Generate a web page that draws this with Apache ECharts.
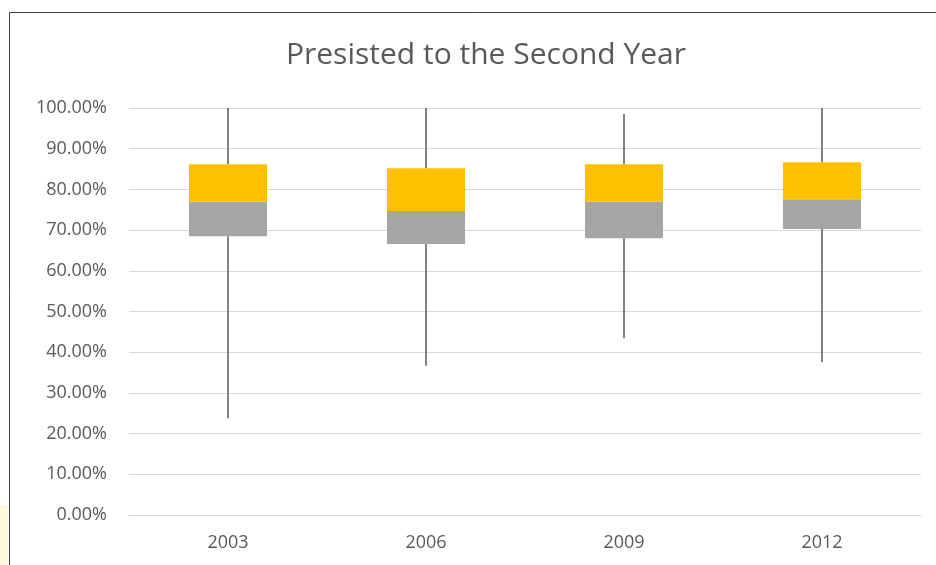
<!DOCTYPE html>
<html>
<head>
<meta charset="utf-8">
<script src="https://cdn.jsdelivr.net/npm/echarts@6/dist/echarts.min.js"></script>
<style>
html,body{margin:0;padding:0;background:#fff;}
#c{width:936px;height:565px;}
</style>
</head>
<body>
<div id="c"></div>
<script>
var years = ['2003', '2006', '2009', '2012'];
var minVals = [0.238, 0.367, 0.434, 0.376];
var q1Vals = [0.685, 0.666, 0.680, 0.703];
var medianVals = [0.770, 0.747, 0.770, 0.776];
var q3Vals = [0.862, 0.852, 0.862, 0.867];
var maxVals = [1.000, 1.000, 0.985, 1.000];

var lowerBox = medianVals.map(function (m, i) { return +(m - q1Vals[i]).toFixed(4); });
var upperBox = q3Vals.map(function (q, i) { return +(q - medianVals[i]).toFixed(4); });
var whiskerData = years.map(function (y, i) { return [i, minVals[i], q1Vals[i], q3Vals[i], maxVals[i]]; });

var chart = echarts.init(document.getElementById('c'), null, { renderer: 'canvas' });
chart.setOption({
  animation: false,
  backgroundColor: '#ffffff',
  title: {
    text: 'Presisted to the Second Year',
    left: 481,
    textAlign: 'center',
    top: 35,
    textStyle: { color: '#595959', fontSize: 30, fontWeight: 'normal', fontFamily: 'Open Sans' }
  },
  graphic: [
    { type: 'rect', shape: { x: 0, y: 505, width: 8, height: 60 }, style: { fill: '#fff8dc' }, z: 0 },
    { type: 'rect', shape: { x: 9.5, y: 12.5, width: 1000, height: 700 }, style: { fill: 'none', stroke: '#404040', lineWidth: 1 }, z: 0 }
  ],
  grid: { left: 129, right: 15, top: 108, bottom: 50 },
  xAxis: {
    type: 'category',
    data: years,
    axisLine: { show: true, lineStyle: { color: '#d9d9d9' } },
    axisTick: { show: false },
    axisLabel: { color: '#595959', fontSize: 18, margin: 19, fontFamily: 'Open Sans' }
  },
  yAxis: {
    type: 'value',
    min: 0,
    max: 1,
    interval: 0.1,
    axisLine: { show: false },
    axisTick: { show: false },
    splitLine: { lineStyle: { color: '#d9d9d9', width: 1 } },
    axisLabel: {
      color: '#595959', fontSize: 18, margin: 22, fontFamily: 'Open Sans',
      formatter: function (v) { return (v * 100).toFixed(2) + '%'; }
    }
  },
  series: [
    {
      type: 'custom',
      z: 1,
      data: whiskerData,
      renderItem: function (params, api) {
        var x = api.value(0);
        var pMin = api.coord([x, api.value(1)]);
        var pQ1 = api.coord([x, api.value(2)]);
        var pQ3 = api.coord([x, api.value(3)]);
        var pMax = api.coord([x, api.value(4)]);
        var st = { stroke: '#595959', lineWidth: 1.5 };
        return {
          type: 'group',
          children: [
            { type: 'line', shape: { x1: pMax[0], y1: pMax[1], x2: pQ3[0], y2: pQ3[1] }, style: st },
            { type: 'line', shape: { x1: pQ1[0], y1: pQ1[1], x2: pMin[0], y2: pMin[1] }, style: st }
          ]
        };
      }
    },
    {
      type: 'bar', stack: 'box', barWidth: 78, z: 2,
      data: q1Vals,
      itemStyle: { color: 'rgba(0,0,0,0)' },
      emphasis: { disabled: true }
    },
    {
      type: 'bar', stack: 'box', barWidth: 78, z: 2,
      data: lowerBox,
      itemStyle: { color: '#a5a5a5' }
    },
    {
      type: 'bar', stack: 'box', barWidth: 78, z: 2,
      data: upperBox,
      itemStyle: { color: '#ffc000' }
    }
  ]
});
</script>
</body>
</html>
